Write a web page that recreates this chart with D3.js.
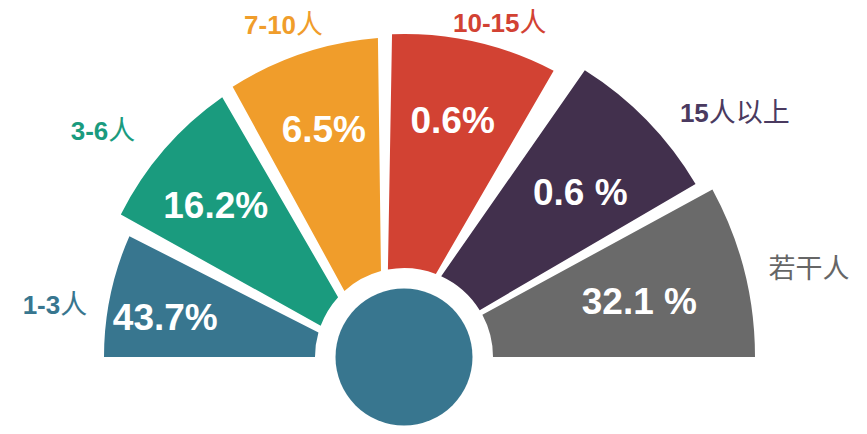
<!DOCTYPE html>
<html>
<head>
<meta charset="utf-8">
<script src="https://d3js.org/d3.v7.min.js"></script>
<style>
  body { margin: 0; background: #fff; }
  text { font-family: "Liberation Sans", Arial, "Noto Sans CJK SC", sans-serif; }
</style>
</head>
<body>
<div id="chart"></div>
<script>
// share of each team size group
const categories = ['1-3人', '3-6人', '7-10人', '10-15人', '15人以上', '若干人'];
const shares = [43.7, 16.2, 6.5, 0.6, 0.6, 32.1];
const shareLabels = ['43.7%', '16.2%', '6.5%', '0.6%', '0.6 %', '32.1 %'];
const colors = ['#38768f', '#1a9b7e', '#f09d2b', '#d24233', '#42304d', '#6a6a6a'];
const labelColors = ['#38768f', '#1a9b7e', '#f09d2b', '#d24233', '#4a3a60', '#666666'];

// fan layout: edge direction in degrees (0 = left, 180 = right, over the top)
// and the sideways shift of that edge in px
const edgeDir = [[0, 27], [29.1, 59.9], [61.3, 89.25], [91, 120.1], [124.9, 149.7], [151.4, 180]];
const edgeShift = [[0, -17], [-13.2, -27], [-20.5, -21.9], [-17.6, -14.1], [-15.75, -2.25], [0.5, 0]];
const outerR = [300, 317, 320, 323, 339, 351];
// small hand tweaks for the text (degrees / px)
const valueTurn = [-2, -0.8, 0.4, -0.2, 1.6, 0.8];
const labelTurn = [-2.2, 0.3, -0.2, 4.2, 3.4, 0.6];
const labelGap = [21, 34, 33, 24.5, 29, 24];

const width = 867, height = 434;
const cx = 404, cy = 357;
const innerR = 89, hubR = 68.5;
const valueR = 242;
const rad = d => d * Math.PI / 180;

const svg = d3.select('#chart').append('svg')
    .attr('width', width)
    .attr('height', height);

const g = svg.append('g').attr('transform', `translate(${cx},${cy})`);

// point at radius r on an edge line
function edgePoint(phi, shift, r) {
    const t = Math.sqrt(r * r - shift * shift);
    const a = rad(phi);
    return [-t * Math.cos(a) + shift * Math.sin(a), -t * Math.sin(a) - shift * Math.cos(a)];
}
const angleOf = p => Math.atan2(p[1], p[0]);

function slicePath(i) {
    const [pa, pb] = edgeDir[i], [sa, sb] = edgeShift[i];
    const a0 = edgePoint(pa, sa, innerR), a1 = edgePoint(pa, sa, outerR[i]);
    const b0 = edgePoint(pb, sb, innerR), b1 = edgePoint(pb, sb, outerR[i]);
    const p = d3.path();
    p.moveTo(a0[0], a0[1]);
    p.arc(0, 0, outerR[i], angleOf(a1), angleOf(b1), false);
    p.arc(0, 0, innerR, angleOf(b0), angleOf(a0), true);
    p.closePath();
    return p.toString();
}

// middle angle of slice i at radius r (screen angle)
function midAngle(i, r) {
    let a = angleOf(edgePoint(edgeDir[i][0], edgeShift[i][0], r));
    let b = angleOf(edgePoint(edgeDir[i][1], edgeShift[i][1], r));
    if (a > 0) a -= 2 * Math.PI;
    if (b > 0.001) b -= 2 * Math.PI;
    return (a + b) / 2;
}

const idx = d3.range(categories.length);

g.selectAll('path.slice')
    .data(idx)
    .join('path')
    .attr('class', 'slice')
    .attr('d', slicePath)
    .attr('fill', i => colors[i]);

g.append('circle')
    .attr('r', hubR)
    .attr('fill', colors[0]);

// percentages inside the slices
const valueAngle = i => midAngle(i, valueR) + rad(valueTurn[i]);
g.selectAll('text.value')
    .data(idx)
    .join('text')
    .attr('class', 'value')
    .attr('x', i => valueR * Math.cos(valueAngle(i)))
    .attr('y', i => valueR * Math.sin(valueAngle(i)))
    .attr('dy', '0.36em')
    .attr('text-anchor', 'middle')
    .attr('fill', '#fff')
    .style('font-size', '37px')
    .style('font-weight', 'bold')
    .text(i => shareLabels[i]);

// category names outside
const isCJK = s => /[\u4e00-\u9fff]/.test(s);
const cats = g.selectAll('text.cat')
    .data(idx)
    .join('text')
    .attr('class', 'cat')
    .style('font-size', '25px')
    .each(function(i) {
        const a = midAngle(i, valueR) + rad(labelTurn[i]);
        const r = outerR[i] + labelGap[i];
        const deg = (a + Math.PI) * 180 / Math.PI;
        d3.select(this)
            .attr('x', r * Math.cos(a))
            .attr('y', r * Math.sin(a))
            .attr('dy', '0.36em')
            .attr('text-anchor', deg < 55 ? 'end' : deg > 125 ? 'start' : 'middle')
            .attr('fill', labelColors[i]);
    });

cats.selectAll('tspan')
    .data(i => categories[i].match(/[\u4e00-\u9fff]+|[^\u4e00-\u9fff]+/g))
    .join('tspan')
    .text(d => d)
    .style('font-family', d => isCJK(d) ? '"Noto Sans CJK SC", sans-serif' : '"Liberation Sans", Arial, sans-serif')
    .style('font-weight', d => isCJK(d) ? 'normal' : 'bold')
    .style('font-size', d => isCJK(d) ? '27px' : '26px');
</script>
</body>
</html>
